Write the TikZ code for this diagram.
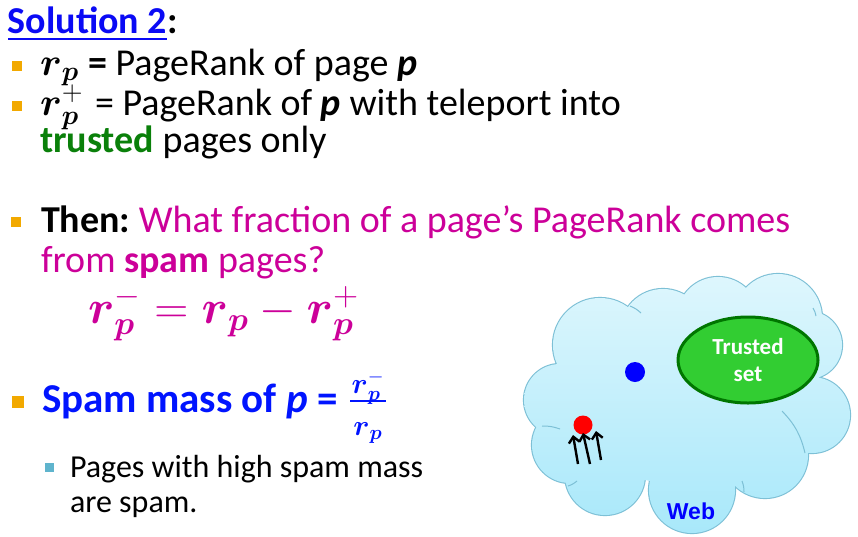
\RequirePackage{fix-cm}
\documentclass[tikz,border=0pt]{standalone}
\usepackage{amsmath}
\usepackage{graphicx}
\usepackage{fontspec}
\setmainfont{Carlito}
\newfontfamily\webfont{Liberation Sans}
\usetikzlibrary{arrows.meta,shapes.geometric}
\definecolor{titleblue}{RGB}{10,10,245}
\definecolor{spamblue}{RGB}{0,20,255}
\definecolor{bulorange}{RGB}{242,169,0}
\definecolor{bulteal}{RGB}{95,180,205}
\definecolor{mag}{RGB}{204,0,153}
\definecolor{trustgreen}{RGB}{10,128,10}
\definecolor{cloudtop}{RGB}{224,247,253}
\definecolor{cloudbot}{RGB}{168,232,250}
\definecolor{cloudline}{RGB}{125,192,214}
\definecolor{setfill}{RGB}{50,205,50}
\definecolor{setline}{RGB}{0,118,0}
\newcommand{\bs}[1]{\boldsymbol{#1}}
\newcommand{\mth}[2]{\scalebox{#1}{\fontsize{20}{22}\selectfont$#2$}}
\begin{document}
\frenchspacing
\begin{tikzpicture}[x=1pt,y=-1pt,
  txt/.style={anchor=base west, inner sep=0pt, outer sep=0pt},
  bul/.style={rectangle, fill=bulorange, inner sep=0pt, minimum size=10pt},
  subbul/.style={rectangle, fill=bulteal, inner sep=0pt, minimum size=9pt},
  big/.style={font=\fontsize{38}{40}\selectfont},
  dot/.style={circle, inner sep=0pt},
  uparrow/.style={line width=2.4pt, -{Straight Barb[length=6pt,width=11pt]}}]
\useasboundingbox (0,0) rectangle (858,536);
\fill[white] (0,0) rectangle (858,536);

% ---------- cloud ----------
\def\cloudlist{560/400/36, 600/345/47, 663/332/43, 718/318/41, 778/318/44, 808/345/34, 812/415/38, 765/455/43, 692/490/43, 605/475/40, 570/445/38}
\foreach \cx/\cy/\r in \cloudlist {
  \draw[cloudline, line width=2.2pt] (\cx,\cy) circle[radius=\r pt];
}
\begin{scope}
  \clip (688,400) ellipse[x radius=125pt, y radius=85pt]
    \foreach \cx/\cy/\r in \cloudlist { (\cx,\cy) circle[radius=\r pt] };
  \shade[top color=cloudtop, bottom color=cloudbot] (515,265) rectangle (858,536);
\end{scope}
% small inner arcs at some cusps
\begin{scope}[cloudline, line width=1pt]
  \draw (542,426) to[bend left=10] (560,429);
  \draw (568,486) to[bend right=10] (577,481);
  \draw (782,411) to[bend left=15] (805,453);
  \draw (630,306) to[bend left=10] (641,313);
  \draw (742,481) to[bend left=10] (744,492);
  \draw (813,308) to[bend left=10] (816,316);
\end{scope}

\node[ellipse, draw=setline, line width=3pt, fill=setfill,
      minimum width=140pt, minimum height=86pt, inner sep=0pt,
      text=white, align=center,
      font=\fontsize{23}{27}\selectfont\bfseries] (trusted) at (748,360) {Trusted\\set};
\node[dot, fill=blue, minimum size=20pt] (bluedot) at (635,372) {};
\node[dot, fill=red, minimum size=19pt] (reddot) at (583,425) {};
\coordinate (t1) at (578,464); \coordinate (h1) at (573,435);
\coordinate (t2) at (590,464); \coordinate (h2) at (583,433);
\coordinate (t3) at (601,460); \coordinate (h3) at (596,431);
\draw[uparrow] (t1) -- (h1);
\draw[uparrow] (t2) -- (h2);
\draw[uparrow] (t3) -- (h3);
\node[txt, anchor=base, text=blue, font=\webfont\fontsize{23}{25}\selectfont\bfseries] (web) at (691,519) {Web};

% ---------- text ----------
\node[txt, text=titleblue, font=\fontsize{38}{40}\selectfont\bfseries] (sol) at (8,33) {Solution 2};
\node[txt, font=\fontsize{38}{40}\selectfont\bfseries] (colon) at (sol.base east) {:};
\draw[titleblue, line width=2pt] ([yshift=-5.5pt]sol.base west) -- ([yshift=-5.5pt]sol.base east);

\node[bul] (b1) at (16.5,65.5) {};
\node[txt] (m1) at (40,75) {\mth{1.95}{\bs{r}_{\bs{p}}}};
\node[txt, big] (l1) at (88,75) {\textbf{=} PageRank of page \textbf{\textit{p}}};

\node[bul] (b2) at (16.5,105.5) {};
\node[txt] (m2) at (40,115) {\mth{1.95}{\bs{r}^{+}_{\bs{p}}}};
\node[txt, big] (l2) at (95,115) {= PageRank of \textbf{\textit{p}} with teleport into};
\node[txt, big] (l3) at (40,152) {\textcolor{trustgreen}{\textbf{trusted}} pages only};

\node[bul] (b3) at (16,221.5) {};
\node[txt, big] (l4) at (41,232) {\textbf{Then:} \textcolor{mag}{What fraction of a page’s PageRank comes}};
\node[txt, big, text=mag] (l5) at (41,272) {from \textbf{spam} pages?};
\node[txt, text=mag] (eq) at (88,323)
  {\mth{2.36}{\bs{r}^{-}_{\bs{p}} = \bs{r}_{\bs{p}} - \bs{r}^{+}_{\bs{p}}}};

\node[bul, minimum size=12pt] (b4) at (17.5,401.5) {};
\node[txt, text=spamblue, font=\fontsize{41}{43}\selectfont\bfseries] (spam) at (42,412) {Spam mass of \textit{p} =};
\node[txt, anchor=base, text=spamblue] (num) at (368,393) {\mth{1.45}{\bs{r}^{-}_{\bs{p}}}};
\node[txt, anchor=base, text=spamblue] (den) at (368,435) {\mth{1.45}{\bs{r}_{\bs{p}}}};
\coordinate (fl) at (350,401); \coordinate (fr) at (386,401);
\draw[spamblue, line width=2pt] (fl) -- (fr);

\node[subbul] (sb) at (49,467) {};
\node[txt, font=\fontsize{32}{34}\selectfont] (s1) at (70,477) {Pages with high spam mass};
\node[txt, font=\fontsize{32}{34}\selectfont] (s2) at (70,512) {are spam.};
\end{tikzpicture}
\end{document}
